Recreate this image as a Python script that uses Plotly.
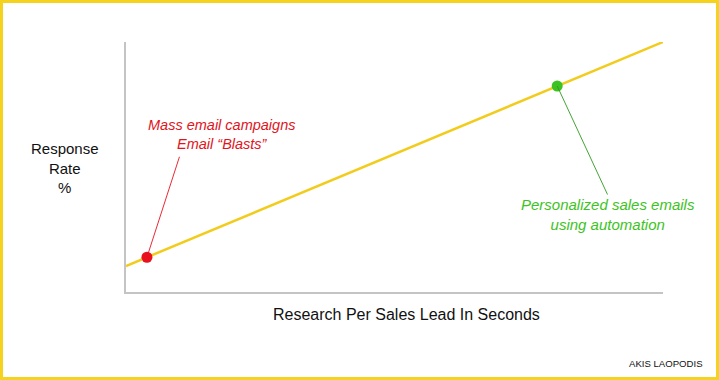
import plotly.graph_objects as go

# Data (conceptual trend line, axes 0-100)
trend_x = [0, 100]
trend_y = [10.4, 100]
point_labels = ["Mass email campaigns<br>Email “Blasts”", "Personalized sales emails<br>using automation"]
point_x = [3.9, 80.3]
point_y = [13.9, 82.4]
point_colors = ["#e8121c", "#3cc322"]
x_title = "Research Per Sales Lead In Seconds"
y_title = "Response<br>Rate<br>%"
credit = "AKIS LAOPODIS"

W, H = 719, 380
ml, mr, mt, mb = 126, 56, 42, 88
pw, ph = W - ml - mr, H - mt - mb

FONT = "Liberation Sans, Arial, sans-serif"

fig = go.Figure()
fig.add_trace(go.Scatter(x=trend_x, y=trend_y, mode="lines",
                         line=dict(color="#f2cc1c", width=2.5),
                         hoverinfo="skip", showlegend=False))
fig.add_trace(go.Scatter(x=point_x, y=point_y, mode="markers",
                         marker=dict(color=point_colors, size=11),
                         showlegend=False, cliponaxis=False))

annotations = []
# leader lines (pixel offsets from the points)
leader_offsets = [(33, -102), (51, 110)]
for px, py, c, (ax, ay) in zip(point_x, point_y, point_colors, leader_offsets):
    annotations.append(dict(x=px, y=py, xref="x", yref="y", text="",
                            showarrow=True, arrowhead=0, arrowwidth=0.9,
                            arrowcolor=c if c != "#3cc322" else "#2e9a1c",
                            ax=ax, ay=ay, standoff=0, startstandoff=0))

def px2x(p):
    return (p - ml) / pw
def py2y(p):
    return (H - mb - p) / ph

# annotation text labels
annotations.append(dict(x=px2x(221), y=py2y(134), xref="paper", yref="paper",
                        text="<i>" + point_labels[0] + "</i>", showarrow=False,
                        font=dict(family=FONT, size=14.5, color="#e0141c"),
                        xanchor="center", yanchor="middle", align="center"))
annotations.append(dict(x=px2x(608), y=py2y(214), xref="paper", yref="paper",
                        text="<i>" + point_labels[1] + "</i>", showarrow=False,
                        font=dict(family=FONT, size=15, color="#3cc322"),
                        xanchor="center", yanchor="middle", align="center"))
# axis titles
annotations.append(dict(x=px2x(65), y=py2y(168), xref="paper", yref="paper",
                        text=y_title, showarrow=False,
                        font=dict(family=FONT, size=15, color="#111111"),
                        xanchor="center", yanchor="middle", align="center"))
annotations.append(dict(x=px2x(406), y=py2y(314), xref="paper", yref="paper",
                        text=x_title, showarrow=False,
                        font=dict(family=FONT, size=16, color="#111111"),
                        xanchor="center", yanchor="middle"))
annotations.append(dict(x=px2x(705), y=py2y(363), xref="paper", yref="paper",
                        text=credit, showarrow=False,
                        font=dict(family=FONT, size=9.6, color="#111111"),
                        xanchor="right", yanchor="middle"))

shapes = [dict(type="rect", xref="paper", yref="paper",
               x0=px2x(1.5), x1=px2x(W - 1.5), y0=py2y(H - 1.5), y1=py2y(1.5),
               line=dict(color="#f5d21e", width=3), fillcolor="rgba(0,0,0,0)",
               layer="above")]

fig.update_layout(
    width=W, height=H,
    margin=dict(l=ml, r=mr, t=mt, b=mb),
    paper_bgcolor="white", plot_bgcolor="white",
    xaxis=dict(range=[0, 100], showgrid=False, zeroline=False, showticklabels=False,
               ticks="", showline=True, linecolor="#c4c4c4", linewidth=2, fixedrange=True),
    yaxis=dict(range=[0, 100], showgrid=False, zeroline=False, showticklabels=False,
               ticks="", showline=True, linecolor="#c4c4c4", linewidth=2, fixedrange=True),
    annotations=annotations, shapes=shapes,
)

fig.write_html("out.html", config={"displayModeBar": False})
